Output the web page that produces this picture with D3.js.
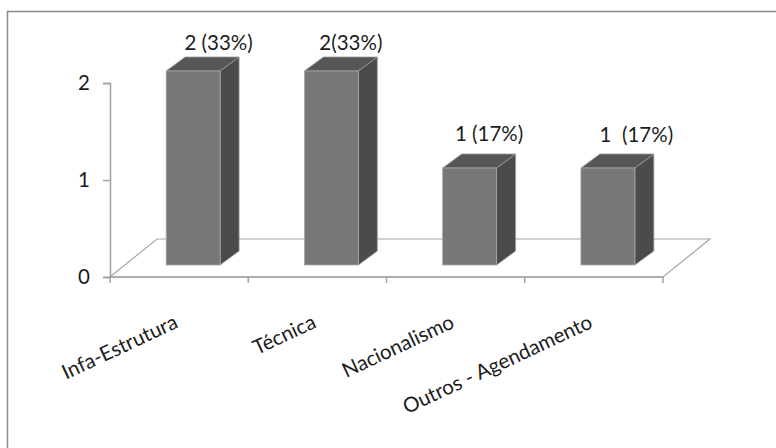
<!DOCTYPE html>
<html>
<head>
<meta charset="utf-8">
<script src="https://cdn.jsdelivr.net/npm/d3@7"></script>
<style>
  html, body { margin: 0; padding: 0; background: #fff; }
  svg { display: block; }
  text { font-family: Lato, "Open Sans", sans-serif; fill: #1c1c1c; }
</style>
</head>
<body>
<svg id="chart" width="776" height="448"></svg>
<script>
// Categories and counts
const categories = ["Infa-Estrutura", "Técnica", "Nacionalismo", "Outros - Agendamento"];
const counts = [2, 2, 1, 1];
const valueLabels = ["2 (33%)", "2(33%)", "1 (17%)", "1  (17%)"];
const yTicks = [0, 1, 2];

const svg = d3.select("#chart");

// Layout of the 3-D plot box
const plot = { left: 110, right: 663, top: 83, bottom: 277 };
const floorDepth = { dx: 47, dy: -38 };   // depth of the floor plane
const barShift = { dx: 14, dy: -12 };     // bars sit part-way back on the floor
const barDepth = { dx: 19, dy: -14 };     // depth of each bar
const labelNudgeX = [6.5, 0.5, 0.5, 9.5];
const labelLift = [21, 21, 27, 26];
const fontSize = 20.5;

const x = d3.scaleBand().domain(categories).range([plot.left, plot.right]).paddingInner(0).paddingOuter(0);
const y = d3.scaleLinear().domain([0, 2]).range([plot.bottom, plot.top]);
const barW = x.bandwidth() * 0.39;

// Outer frame
svg.append("rect")
  .attr("x", 7.5).attr("y", 11.5).attr("width", 820).attr("height", 500)
  .attr("fill", "none").attr("stroke", "#8c8c8c").attr("stroke-width", 1.5);

// Floor
const fl = [
  [plot.left, plot.bottom],
  [plot.left + floorDepth.dx, plot.bottom + floorDepth.dy],
  [plot.right + floorDepth.dx, plot.bottom + floorDepth.dy],
  [plot.right, plot.bottom]
];
svg.append("path")
  .attr("d", d3.line()(fl) + "Z")
  .attr("fill", "#fff").attr("stroke", "#a6a6a6").attr("stroke-width", 1.2);

// Y axis
const yAxis = d3.axisLeft(y).tickValues(yTicks).tickFormat(d3.format("d")).tickSize(7).tickPadding(13);
const gy = svg.append("g").attr("transform", `translate(${plot.left},0)`).call(yAxis);
gy.select(".domain").attr("stroke", "#a0a0a0").attr("stroke-width", 1.5);
gy.selectAll(".tick line").attr("stroke", "#a0a0a0").attr("stroke-width", 1.5);
gy.selectAll(".tick text").attr("font-size", fontSize).attr("font-family", "Lato, sans-serif").attr("fill", "#1c1c1c");

// X axis (front edge of the floor)
const xTickPos = d3.range(categories.length + 1).map(i => plot.left + i * x.step());
svg.append("line")
  .attr("x1", plot.left).attr("x2", plot.right)
  .attr("y1", plot.bottom).attr("y2", plot.bottom)
  .attr("stroke", "#a0a0a0").attr("stroke-width", 1.5);
svg.selectAll(".xtick").data(xTickPos).join("line")
  .attr("class", "xtick")
  .attr("x1", d => d).attr("x2", d => d)
  .attr("y1", plot.bottom).attr("y2", plot.bottom + 6)
  .attr("stroke", "#a0a0a0").attr("stroke-width", 1.5);

// Category labels, rotated
svg.selectAll(".xlab").data(categories).join("text")
  .attr("class", "xlab")
  .attr("transform", d => `translate(${x(d) + x.bandwidth() / 2},${plot.bottom + 50}) rotate(-25)`)
  .attr("text-anchor", "end")
  .attr("font-size", fontSize)
  .text(d => d);

// Bars
const bars = svg.selectAll(".bar").data(categories.map((c, i) => ({ c, v: counts[i], i }))).join("g").attr("class", "bar");
const geom = d => {
  const x0 = x(d.c) + x.bandwidth() / 2 - barW / 2 + barShift.dx;
  const x1 = x0 + barW;
  const yb = y(0) + barShift.dy;
  const yt = y(d.v) + barShift.dy;
  return { x0, x1, yb, yt };
};
bars.append("path")
  .attr("d", d => {
    const g = geom(d);
    return d3.line()([[g.x1, g.yt], [g.x1 + barDepth.dx, g.yt + barDepth.dy], [g.x1 + barDepth.dx, g.yb + barDepth.dy], [g.x1, g.yb]]) + "Z";
  })
  .attr("fill", "#4b4b4b").attr("stroke", "#9a9a9a").attr("stroke-width", 0.8);
bars.append("path")
  .attr("d", d => {
    const g = geom(d);
    return d3.line()([[g.x0, g.yt], [g.x0 + barDepth.dx, g.yt + barDepth.dy], [g.x1 + barDepth.dx, g.yt + barDepth.dy], [g.x1, g.yt]]) + "Z";
  })
  .attr("fill", "#565656").attr("stroke", "#9a9a9a").attr("stroke-width", 0.8);
bars.append("rect")
  .attr("x", d => geom(d).x0).attr("y", d => geom(d).yt)
  .attr("width", barW).attr("height", d => geom(d).yb - geom(d).yt)
  .attr("fill", "#777777").attr("stroke", "#a8a8a8").attr("stroke-width", 0.8);

// Value labels
bars.append("text")
  .attr("x", d => geom(d).x0 + barW / 2 + barDepth.dx + labelNudgeX[d.i])
  .attr("y", d => geom(d).yt - labelLift[d.i])
  .attr("text-anchor", "middle")
  .attr("font-size", fontSize)
  .style("white-space", "pre")
  .text(d => valueLabels[d.i]);
</script>
</body>
</html>
